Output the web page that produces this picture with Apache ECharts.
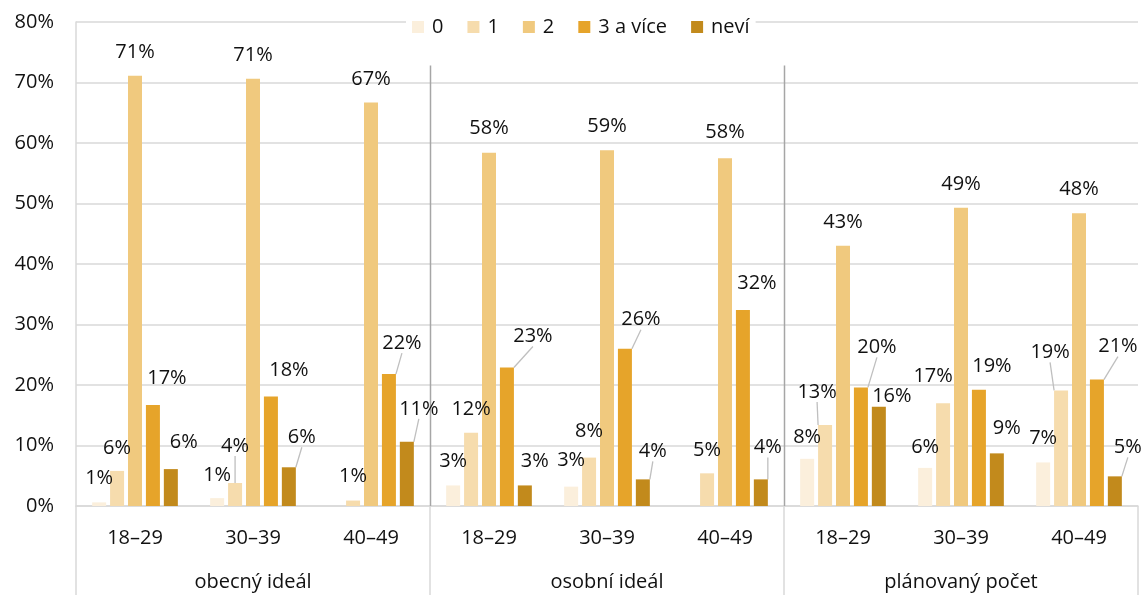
<!DOCTYPE html>
<html>
<head>
<meta charset="utf-8">
<script src="https://cdn.jsdelivr.net/npm/echarts@6/dist/echarts.min.js"></script>
<style>
html,body{margin:0;padding:0;background:#fff;}
#chart{width:1144px;height:595px;}
</style>
</head>
<body>
<div id="chart"></div>
<script>
// ---- data ----
const categories = ['18–29', '30–39', '40–49', '18–29', '30–39', '40–49', '18–29', '30–39', '40–49'];
const groups = ['obecný ideál', 'osobní ideál', 'plánovaný počet'];
const seriesNames = ['0', '1', '2', '3 a více', 'neví'];
const values0 = [0.6, 1.3, null, 3.4, 3.2, null, 7.8, 6.3, 7.2];
const values1 = [5.8, 3.8, 0.9, 12.1, 8.0, 5.4, 13.4, 17.0, 19.1];
const values2 = [71.1, 70.6, 66.7, 58.4, 58.8, 57.5, 43.0, 49.3, 48.4];
const values3 = [16.7, 18.1, 21.8, 22.9, 26.0, 32.4, 19.6, 19.2, 20.9];
const values4 = [6.1, 6.4, 10.6, 3.4, 4.4, 4.4, 16.4, 8.7, 4.9];
const yTicks = [0, 10, 20, 30, 40, 50, 60, 70, 80];

// ---- style ----
const colors = ['#fbefdc', '#f6dcad', '#f0c97e', '#e6a42a', '#c28a1c'];
const FONT = '"Open Sans", "Noto Sans", sans-serif';
const TXT = '#111';
// label nudges [dx, dy, leaderLine] per series, per category (style only)
const labelNudges = [
  [[0,0,0],[0,1,0],[0,0,0],[0,0,0],[0,-2,0],[0,0,0],[0,2,0],[0,3,0],[0,0,0]],
  [[0,1,0],[0,-13,1],[0,0,0],[0,1,0],[0,-2,0],[0,1,0],[-8,-9,1],[-10,-3,0],[-11,-14,1]],
  [[0,0,0],[0,0,0],[0,1,0],[0,0,0],[0,0,0],[0,-2,0],[0,0,0],[0,1,0],[0,0,0]],
  [[14,-3,0],[18,-2,0],[13,-7,1],[26,-7,1],[16,-5,1],[14,-3,0],[16,-16,1],[13,0,0],[21,-9,1]],
  [[13,-3,0],[13,-6,1],[12,-9,1],[10,0,0],[10,-4,1],[7,-8,1],[13,14,0],[10,-1,0],[13,-5,1]]
];

const allValues = [values0, values1, values2, values3, values4];
const sepTopValue = 72.8;

const barSeries = allValues.map((vals, si) => ({
  name: seriesNames[si],
  type: 'bar',
  xAxisIndex: 0,
  yAxisIndex: 0,
  barWidth: 14,
  barGap: '28%',
  itemStyle: { color: colors[si] },
  label: {
    show: true,
    position: 'top',
    distance: 14,
    fontFamily: FONT,
    fontSize: 20,
    color: TXT,
    formatter: p => (p.value == null ? '' : Math.round(p.value) + '%')
  },
  labelLine: { show: false, lineStyle: { color: '#bfbfbf', width: 1.3 } },
  labelLayout: p => {
    const n = labelNudges[si][p.dataIndex];
    return { dx: n[0], dy: n[1] };
  },
  data: vals.map((v, i) => ({
    value: v,
    labelLine: { show: !!labelNudges[si][i][2], lineStyle: { color: '#bfbfbf', width: 1.3 } }
  }))
}));

const sepSeries = {
  type: 'custom',
  xAxisIndex: 1,
  yAxisIndex: 0,
  silent: true,
  z: 1,
  renderItem: (params, api) => {
    const idx = api.value(0);
    const base = api.coord([idx, 0]);
    const bw = api.size([1, 0])[0];
    const x = Math.round(base[0] - bw / 2) + 0.5;
    const top = api.coord([idx, sepTopValue])[1];
    return {
      type: 'line',
      shape: { x1: x, y1: top, x2: x, y2: base[1] },
      style: { stroke: '#a6a6a6', lineWidth: 1.5 }
    };
  },
  data: [[1, 0], [2, 0]]
};

const chart = echarts.init(document.getElementById('chart'), null, { renderer: 'canvas' });
chart.setOption({
  animation: false,
  backgroundColor: '#fff',
  legend: {
    data: seriesNames,
    left: 406,
    top: 15,
    padding: [2, 6, 2, 6],
    backgroundColor: '#fff',
    itemWidth: 12,
    itemHeight: 12,
    itemGap: 24,
    icon: 'rect',
    textStyle: { fontFamily: FONT, fontSize: 20, color: TXT, padding: [0, 0, 0, 3] }
  },
  grid: { left: 76, right: 6, top: 22, bottom: 89, containLabel: false },
  xAxis: [
    {
      type: 'category',
      data: categories,
      axisLine: { show: true, lineStyle: { color: '#d9d9d9', width: 1.5 } },
      axisTick: { show: false },
      axisLabel: { fontFamily: FONT, fontSize: 20, color: TXT, margin: 22, interval: 0 },
      splitLine: { show: false }
    },
    {
      type: 'category',
      data: groups,
      position: 'bottom',
      axisLine: { show: false },
      axisTick: { show: true, length: 89, alignWithLabel: false, interval: 0, lineStyle: { color: '#d9d9d9', width: 1.5 } },
      axisLabel: { fontFamily: FONT, fontSize: 20, color: TXT, margin: 66, interval: 0 },
      splitLine: { show: false }
    }
  ],
  yAxis: {
    type: 'value',
    min: yTicks[0],
    max: yTicks[yTicks.length - 1],
    interval: 10,
    axisLine: { show: true, lineStyle: { color: '#d9d9d9', width: 1.5 } },
    axisTick: { show: false },
    axisLabel: { fontFamily: FONT, fontSize: 20, color: TXT, margin: 22, formatter: '{value}%' },
    splitLine: { show: true, lineStyle: { color: '#d9d9d9', width: 1.5 } }
  },
  series: [sepSeries].concat(barSeries)
});
</script>
</body>
</html>
